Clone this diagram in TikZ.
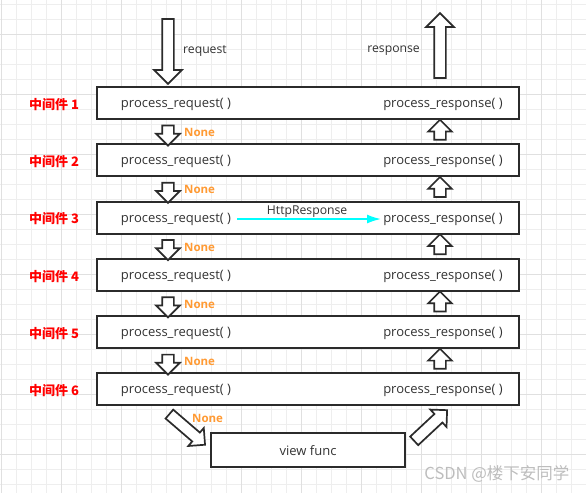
\documentclass[tikz,border=0pt]{standalone}
\usepackage{fontspec}
\setmainfont{Open Sans}
\newfontfamily\cjk{Noto Sans CJK SC}
\usepackage{tikz}
\usetikzlibrary{shapes.arrows, arrows.meta, calc}
\definecolor{ink}{HTML}{2B2B2B}
\definecolor{txt}{HTML}{333333}
\definecolor{nonecol}{HTML}{FF9A33}
\definecolor{aqua}{HTML}{00FFFF}
\definecolor{gridminor}{HTML}{EEEEEE}
\definecolor{gridmajor}{HTML}{E0E0E0}
\definecolor{wm}{HTML}{BDBDBD}
\tikzstyle{layer} = [rectangle, minimum width=422pt, minimum height=32pt, draw=ink, line width=2pt, fill=white, text=txt, font=\fontsize{13}{15}\selectfont]
\tikzstyle{fn} = [text=txt, inner sep=2pt, yshift=-1.5pt, font=\fontsize{13}{15}\selectfont]
\tikzstyle{lbl} = [text=txt, inner sep=1pt, font=\fontsize{12.2}{14}\selectfont]
\tikzstyle{mw} = [text=red, yshift=-1.5pt, font=\cjk\bfseries\fontsize{13}{15}\selectfont]
\tikzstyle{nonetxt} = [text=nonecol, inner sep=1pt, font=\bfseries\fontsize{11.5}{13}\selectfont]
\tikzstyle{blk} = [single arrow, draw=ink, line width=1.7pt, fill=white, inner xsep=0pt, inner ysep=5pt, minimum width=0pt, minimum height=20pt, single arrow head extend=6pt]
\tikzstyle{bigblk} = [blk, minimum height=65pt, single arrow head extend=8pt]
\tikzstyle{hrarrow} = [draw=aqua, line width=1.8pt, -{Latex[length=14pt,width=9pt]}, shorten <=4pt]
\tikzstyle{gridline} = [gridminor, line width=0.8pt]
\tikzstyle{gridbold} = [gridmajor, line width=0.9pt]

\begin{document}
\begin{tikzpicture}[x=1pt, y=-1pt, node distance=57.26pt]
\useasboundingbox (0,0) rectangle (586,493);
\fill[white] (0,0) rectangle (586,493);
% background grid
\foreach \x in {1,16,...,586} \draw[gridline] (\x,0) -- (\x,493);
\foreach \y in {4,19,...,493} \draw[gridline] (0,\y) -- (586,\y);
\foreach \x in {1,61,...,586} \draw[gridbold] (\x,0) -- (\x,493);
\foreach \y in {34,94,...,493} \draw[gridbold] (0,\y) -- (586,\y);

% middleware layers
\node (m1) [layer] at (308,103) {};
\node (m2) [layer, below of=m1] {};
\node (m3) [layer, below of=m2] {};
\node (m4) [layer, below of=m3] {};
\node (m5) [layer, below of=m4] {};
\node (m6) [layer, below of=m5] {};
\node (view) [layer, minimum width=194pt, minimum height=34pt, below of=m6, node distance=61pt] {view func};

\node (l1) [mw, left of=m1, node distance=254pt] {中间件 1};
\node (l2) [mw, left of=m2, node distance=254pt] {中间件 2};
\node (l3) [mw, left of=m3, node distance=254pt] {中间件 3};
\node (l4) [mw, left of=m4, node distance=254pt] {中间件 4};
\node (l5) [mw, left of=m5, node distance=254pt] {中间件 5};
\node (l6) [mw, left of=m6, node distance=254pt] {中间件 6};

\node (q1) [fn, left of=m1, node distance=132pt] {process\_request( )};
\node (q2) [fn, left of=m2, node distance=132pt] {process\_request( )};
\node (q3) [fn, left of=m3, node distance=132pt] {process\_request( )};
\node (q4) [fn, left of=m4, node distance=132pt] {process\_request( )};
\node (q5) [fn, left of=m5, node distance=132pt] {process\_request( )};
\node (q6) [fn, left of=m6, node distance=132pt] {process\_request( )};

\node (p1) [fn, right of=m1, node distance=135pt] {process\_response( )};
\node (p2) [fn, right of=m2, node distance=135pt] {process\_response( )};
\node (p3) [fn, right of=m3, node distance=135pt] {process\_response( )};
\node (p4) [fn, right of=m4, node distance=135pt] {process\_response( )};
\node (p5) [fn, right of=m5, node distance=135pt] {process\_response( )};
\node (p6) [fn, right of=m6, node distance=135pt] {process\_response( )};

% request / response
\node (req) [bigblk, rotate=-90] at (168,48.5) {};
\node (resp) [bigblk, rotate=90] at (440,48.5) {};
\node (reqtxt) [lbl, anchor=west] at (182,51) {request};
\node (resptxt) [lbl, anchor=east] at (421,51) {response};

% block arrows between layers
\node (dn1) [blk, rotate=-90] at ($(m1)!0.5!(m2)+(-140,1)$) {};
\node (dn2) [blk, rotate=-90] at ($(m2)!0.5!(m3)+(-140,1)$) {};
\node (dn3) [blk, rotate=-90] at ($(m3)!0.5!(m4)+(-140,1)$) {};
\node (dn4) [blk, rotate=-90] at ($(m4)!0.5!(m5)+(-140,1)$) {};
\node (dn5) [blk, rotate=-90] at ($(m5)!0.5!(m6)+(-140,1)$) {};
\node (up1) [blk, rotate=90] at ($(m1)!0.5!(m2)+(132,1)$) {};
\node (up2) [blk, rotate=90] at ($(m2)!0.5!(m3)+(132,1)$) {};
\node (up3) [blk, rotate=90] at ($(m3)!0.5!(m4)+(132,1)$) {};
\node (up4) [blk, rotate=90] at ($(m4)!0.5!(m5)+(132,1)$) {};
\node (up5) [blk, rotate=90] at ($(m5)!0.5!(m6)+(132,1)$) {};

\node (n1) [nonetxt, right of=dn1, node distance=15pt, anchor=west] {None};
\node (n2) [nonetxt, right of=dn2, node distance=15pt, anchor=west] {None};
\node (n3) [nonetxt, right of=dn3, node distance=15pt, anchor=west] {None};
\node (n4) [nonetxt, right of=dn4, node distance=15pt, anchor=west] {None};
\node (n5) [nonetxt, right of=dn5, node distance=15pt, anchor=west] {None};

% into and out of the view
\node (dv) [blk, minimum height=47pt, rotate=-40.7] at (185,427.5) {};
\node (vu) [blk, minimum height=45pt, rotate=43] at (428.5,427.5) {};
\node (n6) [nonetxt, anchor=west] at (191,418) {None};

\draw [hrarrow] (q3) -- node[lbl, above] {HttpResponse} (p3);

\node (mark) [anchor=east, text=wm, font=\cjk\fontsize{16.5}{18}\selectfont] at (573,474) {CSDN @楼下安同学};
\end{tikzpicture}
\end{document}
